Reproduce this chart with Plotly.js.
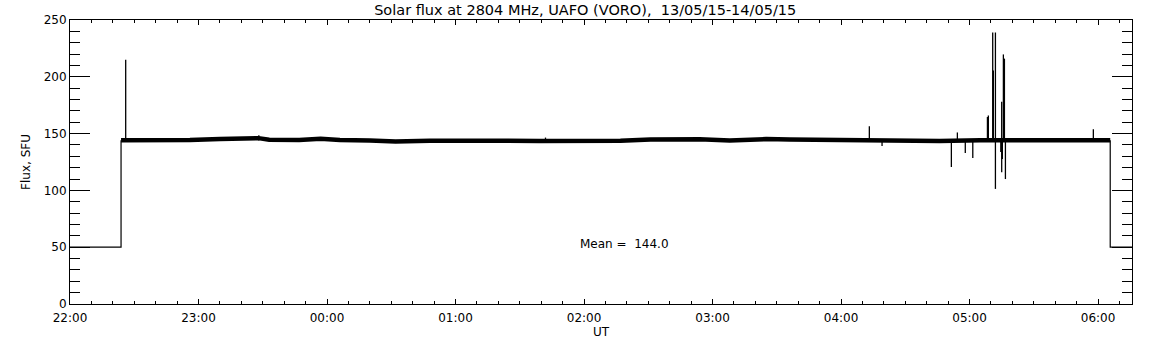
<!DOCTYPE html>
<html>
<head>
<meta charset="utf-8">
<script src="https://cdn.plot.ly/plotly-3.0.1.min.js"></script>
<style>html,body{margin:0;padding:0;background:#fff;}#chart{width:1152px;height:345px;}</style>
</head>
<body>
<div id="chart"></div>
<script>
// Off-level (calibration) segments at 50 SFU, before and after observations
const offTimes = ['2015-05-13 22:00:00', '2015-05-13 22:23:50', '2015-05-13 22:23:50'];
const offValues = [50, 50, 144.2];
const offTimes2 = ['2015-05-14 06:05:40', '2015-05-14 06:05:40', '2015-05-14 06:15:50'];
const offValues2 = [144.1, 50, 50];

// Quiet-sun flux level (band)
const baseTimes = [
  '2015-05-13 22:23:50', '2015-05-13 22:37:00', '2015-05-13 22:56:00', '2015-05-13 23:10:00',
  '2015-05-13 23:22:00', '2015-05-13 23:28:00', '2015-05-13 23:33:00', '2015-05-13 23:47:00',
  '2015-05-13 23:57:00', '2015-05-14 00:06:00', '2015-05-14 00:20:00', '2015-05-14 00:32:00',
  '2015-05-14 00:48:00', '2015-05-14 01:07:00', '2015-05-14 01:23:00', '2015-05-14 01:39:00',
  '2015-05-14 01:58:00', '2015-05-14 02:17:00', '2015-05-14 02:31:00', '2015-05-14 02:54:00',
  '2015-05-14 03:08:00', '2015-05-14 03:25:00', '2015-05-14 03:36:00', '2015-05-14 03:55:00',
  '2015-05-14 04:14:00', '2015-05-14 04:28:00', '2015-05-14 04:46:00', '2015-05-14 05:05:00',
  '2015-05-14 05:24:00', '2015-05-14 05:42:00', '2015-05-14 06:05:40'
];
const baseValues = [
  144.2, 144.0, 144.3, 145.2,
  145.3, 146.0, 144.6, 144.3,
  145.4, 144.4, 144.0, 143.0,
  143.6, 144.0, 143.8, 143.5,
  143.2, 143.8, 144.8, 145.0,
  144.0, 145.2, 144.8, 144.2,
  143.6, 143.1, 143.5, 144.2,
  144.0, 144.2, 144.1
];

// Bursts / spikes: time, lower end, upper end
const spikeTimes = [
  '2015-05-13 22:26:00', '2015-05-13 23:28:10', '2015-05-14 01:42:00', '2015-05-14 04:13:12',
  '2015-05-14 04:19:08', '2015-05-14 04:51:30', '2015-05-14 04:54:18', '2015-05-14 04:58:00',
  '2015-05-14 05:01:30', '2015-05-14 05:08:20', '2015-05-14 05:08:46', '2015-05-14 05:10:48',
  '2015-05-14 05:11:06', '2015-05-14 05:12:04', '2015-05-14 05:14:35', '2015-05-14 05:15:00',
  '2015-05-14 05:15:18', '2015-05-14 05:15:47', '2015-05-14 05:16:16', '2015-05-14 05:16:44',
  '2015-05-14 05:57:47'
];
const spikeLow = [
  144, 144, 144, 144,
  139, 120.6, 144, 133,
  128.6, 144, 144, 144,
  144, 101.3, 133.8, 116,
  127.7, 144, 144, 110,
  144
];
const spikeHigh = [
  215, 148.5, 146.5, 156.4,
  144, 144, 151, 144,
  144, 164.6, 166, 239,
  205.6, 239, 144, 178,
  144, 219.7, 216, 144,
  153.8
];

const titleText = 'Solar flux at 2804 MHz, UAFO (VORO),  13/05/15-14/05/15';
const meanText = 'Mean =  144.0';

const sx = [], sy = [];
for (let i = 0; i < spikeTimes.length; i++) {
  sx.push(spikeTimes[i], spikeTimes[i], null);
  sy.push(spikeLow[i], spikeHigh[i], null);
}

const font = {family: 'DejaVu Sans, Liberation Sans, sans-serif', size: 12, color: '#000'};

const traces = [
  {x: offTimes, y: offValues, mode: 'lines', line: {color: '#000', width: 1.2}, hoverinfo: 'skip'},
  {x: offTimes2, y: offValues2, mode: 'lines', line: {color: '#000', width: 1.2}, hoverinfo: 'skip'},
  {x: baseTimes, y: baseValues, mode: 'lines', line: {color: '#000', width: 4.5}, hoverinfo: 'skip'},
  {x: sx, y: sy, mode: 'lines', line: {color: '#000', width: 1.3}, connectgaps: false, hoverinfo: 'skip'}
];

const layout = {
  width: 1152, height: 345,
  margin: {l: 70, r: 20, t: 20, b: 41},
  paper_bgcolor: '#fff', plot_bgcolor: '#fff',
  showlegend: false,
  font: font,
  title: {text: titleText, x: 0.508, xanchor: 'center', y: 0.972, yanchor: 'middle',
          font: {family: font.family, size: 14.5, color: '#000'}},
  xaxis: {
    type: 'date',
    range: ['2015-05-13 22:00:00', '2015-05-14 06:15:50'],
    tickformat: '%H:%M',
    dtick: 3600000,
    tick0: '2015-05-13 22:00:00',
    ticks: 'inside', ticklen: 5, tickwidth: 1, tickcolor: '#000',
    minor: {dtick: 600000, ticks: 'inside', ticklen: 3, tickwidth: 1, tickcolor: '#000', showgrid: false},
    showline: true, linecolor: '#000', linewidth: 1, mirror: 'allticks',
    showgrid: false, zeroline: false,
    tickfont: font,
    ticklabelstandoff: 3,
    title: {text: 'UT', font: font, standoff: 0}
  },
  yaxis: {
    range: [0, 250],
    dtick: 50, tick0: 0,
    ticks: 'inside', ticklen: 20, tickwidth: 1, tickcolor: '#000',
    minor: {dtick: 10, ticks: 'inside', ticklen: 10, tickwidth: 1, tickcolor: '#000', showgrid: false},
    showline: true, linecolor: '#000', linewidth: 1, mirror: 'allticks',
    showgrid: false, zeroline: false,
    tickfont: font,
    title: {text: 'Flux, SFU', font: font, standoff: 10}
  },
  annotations: [{
    text: meanText, xref: 'x', yref: 'y',
    x: '2015-05-14 01:57:20', y: 52.7, xanchor: 'left', yanchor: 'middle',
    showarrow: false, font: font
  }]
};

Plotly.newPlot('chart', traces, layout, {staticPlot: true, displayModeBar: false});
</script>
</body>
</html>
